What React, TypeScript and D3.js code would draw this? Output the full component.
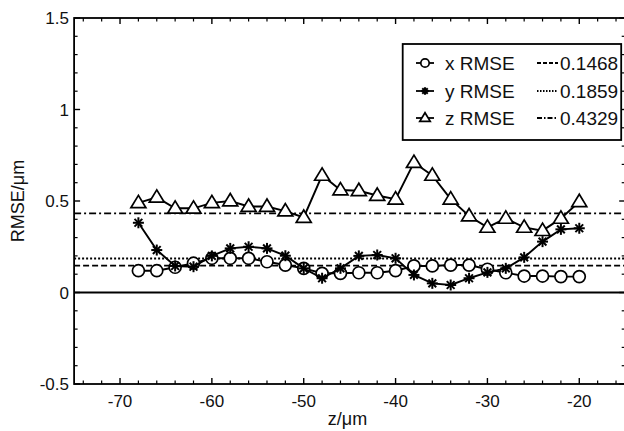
import React from "react";
import * as d3 from "d3";

const zPos = [-68, -66, -64, -62, -60, -58, -56, -54, -52, -50, -48, -46, -44, -42, -40, -38, -36, -34, -32, -30, -28, -26, -24, -22, -20];
const xRmse = [0.119, 0.119, 0.138, 0.16, 0.187, 0.187, 0.187, 0.168, 0.15, 0.132, 0.105, 0.105, 0.108, 0.108, 0.119, 0.145, 0.145, 0.15, 0.15, 0.127, 0.108, 0.09, 0.09, 0.087, 0.087];
const yRmse = [0.381, 0.232, 0.145, 0.141, 0.2, 0.241, 0.25, 0.241, 0.201, 0.132, 0.078, 0.132, 0.2, 0.205, 0.187, 0.096, 0.05, 0.041, 0.078, 0.11, 0.132, 0.192, 0.278, 0.345, 0.351];
const zRmse = [0.49, 0.52, 0.46, 0.46, 0.49, 0.5, 0.47, 0.47, 0.445, 0.41, 0.64, 0.56, 0.556, 0.53, 0.51, 0.71, 0.64, 0.51, 0.418, 0.356, 0.405, 0.356, 0.338, 0.405, 0.496];
const meanValues = [0.1468, 0.1859, 0.4329];
const meanLabels = ["0.1468", "0.1859", "0.4329"];
const seriesNames = ["x RMSE", "y RMSE", "z RMSE"];
const xMajorTicks = [-70, -60, -50, -40, -30, -20];
const yMajorTicks = [-0.5, 0, 0.5, 1, 1.5];
const yTickLabels = ["-0.5", "0", "0.5", "1", "1.5"];

const W = 624, H = 431;
const FONT = "'Liberation Sans', Arial, Helvetica, sans-serif";

const x = d3.scaleLinear().domain([-75, -15]).range([74.1, 625.2]);
const y = d3.scaleLinear().domain([-0.5, 1.5]).range([384, 18]);

const dashes = ["6,3", "2,2", "7,3,2,3"];
const legendDashes = ["4,2", "1.5,1.5", "5,2,1.5,2"];

type MP = { cx: number; cy: number; k?: number };

function Circle({ cx, cy, k = 1 }: MP) {
  return <circle cx={cx} cy={cy} r={6 * k} fill="white" stroke="black" strokeWidth={1.7} />;
}
function Star({ cx, cy, k = 1 }: MP) {
  const r = 5.5 * k;
  const lines = [0, 45, 90, 135].map((a) => {
    const rad = (a * Math.PI) / 180;
    return (
      <line key={a} x1={cx - r * Math.cos(rad)} y1={cy - r * Math.sin(rad)} x2={cx + r * Math.cos(rad)} y2={cy + r * Math.sin(rad)} stroke="black" strokeWidth={2} />
    );
  });
  return <g>{lines}</g>;
}
function Tri({ cx, cy, k = 1 }: MP) {
  const s = 7.5 * k;
  const pts = `${cx},${cy - s} ${cx - s},${cy + s * 0.65} ${cx + s},${cy + s * 0.65}`;
  return <polygon points={pts} fill="white" stroke="black" strokeWidth={1.7} />;
}

const markers = [Circle, Star, Tri];
const seriesData = [xRmse, yRmse, zRmse];

export default function App() {
  const [x0, x1] = x.range();
  const [yb, yt] = y.range();
  const line = d3.line<number>().x((_, i) => x(zPos[i])).y((d) => y(d));

  const xMinor = d3.range(-74, -15, 2).filter((v) => !xMajorTicks.includes(v));
  const yMinor = d3.range(-4, 15).map((v) => v / 10).filter((v) => Math.abs(v * 2 - Math.round(v * 2)) > 1e-6);

  const tickEls: React.ReactNode[] = [];
  xMajorTicks.forEach((v) => {
    tickEls.push(<line key={"xb" + v} x1={x(v)} x2={x(v)} y1={yb} y2={yb - 6} stroke="black" strokeWidth={1.4} />);
    tickEls.push(<line key={"xt" + v} x1={x(v)} x2={x(v)} y1={yt} y2={yt + 6} stroke="black" strokeWidth={1.4} />);
  });
  xMinor.forEach((v) => {
    tickEls.push(<line key={"xbm" + v} x1={x(v)} x2={x(v)} y1={yb} y2={yb - 3.5} stroke="black" strokeWidth={1.2} />);
    tickEls.push(<line key={"xtm" + v} x1={x(v)} x2={x(v)} y1={yt} y2={yt + 3.5} stroke="black" strokeWidth={1.2} />);
  });
  yMajorTicks.forEach((v) => {
    tickEls.push(<line key={"yl" + v} x1={x0} x2={x0 + 6} y1={y(v)} y2={y(v)} stroke="black" strokeWidth={1.4} />);
    tickEls.push(<line key={"yr" + v} x1={x1} x2={x1 - 6} y1={y(v)} y2={y(v)} stroke="black" strokeWidth={1.4} />);
  });
  yMinor.forEach((v) => {
    tickEls.push(<line key={"ylm" + v} x1={x0} x2={x0 + 3.5} y1={y(v)} y2={y(v)} stroke="black" strokeWidth={1.2} />);
    tickEls.push(<line key={"yrm" + v} x1={x1} x2={x1 - 3.5} y1={y(v)} y2={y(v)} stroke="black" strokeWidth={1.2} />);
  });

  const legX = 402.7, legY = 44, legW = 218.5, legH = 96;
  const rowY = [63, 91, 118];

  return (
    <svg width={W} height={H} style={{ position: "absolute", left: 0, top: 0, background: "white" }} fontFamily={FONT}>
      <rect width={W} height={H} fill="white" />
      {meanValues.map((m, i) => (
        <line key={"m" + i} x1={x0} x2={x1} y1={y(m)} y2={y(m)} stroke="black" strokeWidth={1.8} strokeDasharray={dashes[i]} />
      ))}
      <line x1={x0} x2={x1} y1={y(0)} y2={y(0)} stroke="black" strokeWidth={2.2} />
      {seriesData.map((data, si) => {
        const M = markers[si];
        return (
          <g key={"s" + si}>
            <path d={line(data) || ""} fill="none" stroke="black" strokeWidth={1.9} />
            {data.map((d, i) => (
              <M key={i} cx={x(zPos[i])} cy={y(d)} />
            ))}
          </g>
        );
      })}
      <rect x={x0} y={yt} width={x1 - x0} height={yb - yt} fill="none" stroke="black" strokeWidth={1.8} />
      {tickEls}
      {xMajorTicks.map((v) => (
        <text key={"xl" + v} x={x(v)} y={407} textAnchor="middle" fontSize={17} fill="#111">{v}</text>
      ))}
      {yMajorTicks.map((v, i) => (
        <text key={"ylb" + v} x={69} y={y(v) + 6} textAnchor="end" fontSize={17} fill="#111">{yTickLabels[i]}</text>
      ))}
      <text x={347.5} y={425} textAnchor="middle" fontSize={18} fill="#111">z/μm</text>
      <text transform={`translate(24,${(yt + yb) / 2}) rotate(-90)`} textAnchor="middle" fontSize={18} fill="#111">RMSE/μm</text>
      <rect x={legX} y={legY} width={legW} height={legH} fill="white" stroke="black" strokeWidth={1.8} />
      {seriesNames.map((name, i) => {
        const M = markers[i];
        return (
          <g key={"lg" + i}>
            <line x1={416} x2={434} y1={rowY[i]} y2={rowY[i]} stroke="black" strokeWidth={1.8} />
            <M cx={425} cy={rowY[i]} k={0.7} />
            <text x={445} y={rowY[i] + 7} fontSize={19} fill="#111">{name}</text>
            <line x1={537} x2={558} y1={rowY[i]} y2={rowY[i]} stroke="black" strokeWidth={1.8} strokeDasharray={legendDashes[i]} />
            <text x={560} y={rowY[i] + 7} fontSize={19} fill="#111">{meanLabels[i]}</text>
          </g>
        );
      })}
    </svg>
  );
}
